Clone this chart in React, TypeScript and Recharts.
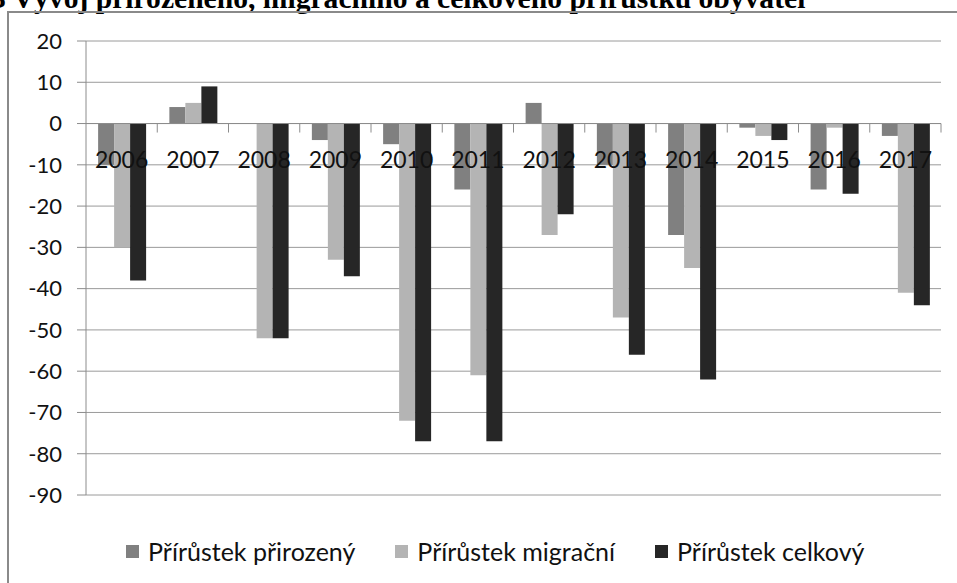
import React from 'react';
import {
    BarChart,
    Bar,
    XAxis,
    YAxis,
    CartesianGrid,
    ReferenceLine,
    Legend,
} from 'recharts';

const YEARS = ['2006', '2007', '2008', '2009', '2010', '2011', '2012', '2013', '2014', '2015', '2016', '2017'];
const NATURAL = [-10, 4, 0, -4, -5, -16, 5, -10, -27, -1, -16, -3];
const MIGRATION = [-30, 5, -52, -33, -72, -61, -27, -47, -35, -3, -1, -41];
const TOTAL = [-38, 9, -52, -37, -77, -77, -22, -56, -62, -4, -17, -44];
const Y_TICKS = [20, 10, 0, -10, -20, -30, -40, -50, -60, -70, -80, -90];

const SERIES = [
    { key: 'natural', name: 'Přírůstek přirozený', color: '#808080' },
    { key: 'migration', name: 'Přírůstek migrační', color: '#b4b4b4' },
    { key: 'total', name: 'Přírůstek celkový', color: '#262626' },
];

const W = 957;
const H = 583;
const MARGIN = { top: 41, right: 16, left: 8, bottom: 0 };
const Y_AXIS_W = 78;
const X_AXIS_H = 20;
const LEGEND_H = 68;
const FONT = 'Lato, "Open Sans", sans-serif';
const AXIS_GRAY = '#8c8c8c';

const data = YEARS.map((year, i) => ({
    year,
    natural: NATURAL[i],
    migration: MIGRATION[i],
    total: TOTAL[i],
}));

// plot box, used to put the category labels on the zero line like Excel does
const PLOT_LEFT = MARGIN.left + Y_AXIS_W;
const PLOT_RIGHT = W - MARGIN.right;
const PLOT_TOP = MARGIN.top;
const PLOT_BOTTOM = H - MARGIN.bottom - LEGEND_H - X_AXIS_H;
const Y_MIN = Y_TICKS[Y_TICKS.length - 1];
const Y_MAX = Y_TICKS[0];
const ZERO_Y = PLOT_TOP + ((Y_MAX - 0) / (Y_MAX - Y_MIN)) * (PLOT_BOTTOM - PLOT_TOP);
const BAND = (PLOT_RIGHT - PLOT_LEFT) / YEARS.length;

function YearTick(props: any) {
    const { x, payload } = props;
    return (
        <g>
            <line x1={x + BAND / 2} x2={x + BAND / 2} y1={ZERO_Y} y2={ZERO_Y + 9} stroke={AXIS_GRAY} />
            <text x={x} y={ZERO_Y + 44} textAnchor="middle" fontSize={23} fontFamily={FONT} fill="#111">
                {payload.value}
            </text>
        </g>
    );
}

function LegendBox() {
    return (
        <div
            style={{
                height: LEGEND_H,
                display: 'flex',
                alignItems: 'center',
                paddingTop: 4,
                paddingLeft: 126 - MARGIN.left,
                boxSizing: 'border-box',
                fontFamily: FONT,
                fontSize: 25,
                color: '#111',
            }}
        >
            {SERIES.map((s) => (
                <span key={s.key} style={{ display: 'flex', alignItems: 'center', marginRight: 40 }}>
                    <span style={{ width: 13, height: 13, background: s.color, marginRight: 9 }} />
                    {s.name}
                </span>
            ))}
        </div>
    );
}

export default function App() {
    return (
        <div style={{ position: 'absolute', left: 0, top: 0, width: W, height: H, overflow: 'hidden', background: '#fff' }}>
            <div
                style={{
                    position: 'absolute',
                    left: -9,
                    top: -18,
                    whiteSpace: 'nowrap',
                    fontFamily: '"Liberation Serif", "Times New Roman", serif',
                    fontWeight: 'bold',
                    fontSize: 29.6,
                }}
            >
                3 Vývoj přirozeného, migračního a celkového přírůstku obyvatel
            </div>
            <div
                style={{
                    position: 'absolute',
                    left: 7,
                    top: 11,
                    width: W + 20,
                    height: H + 20,
                    borderLeft: '2px solid #8a8a8a',
                    borderTop: '2px solid #8a8a8a',
                }}
            />
            <div style={{ position: 'absolute', left: 0, top: 0 }}>
                <BarChart width={W} height={H} data={data} margin={MARGIN} barCategoryGap="17%" barGap={0}>
                    <CartesianGrid vertical={false} stroke="#9a9a9a" />
                    <XAxis
                        dataKey="year"
                        axisLine={false}
                        tickLine={false}
                        tick={<YearTick />}
                        interval={0}
                        height={X_AXIS_H}
                    />
                    <YAxis
                        width={Y_AXIS_W}
                        domain={[Y_MIN, Y_MAX]}
                        ticks={Y_TICKS}
                        interval={0}
                        stroke={AXIS_GRAY}
                        tickSize={9}
                        tickMargin={15}
                        tick={{ fontSize: 22, fontFamily: FONT, fill: '#111' }}
                    />
                    <ReferenceLine y={0} stroke={AXIS_GRAY} />
                    <Legend verticalAlign="bottom" height={LEGEND_H} content={<LegendBox />} />
                    {SERIES.map((s) => (
                        <Bar key={s.key} dataKey={s.key} name={s.name} fill={s.color} isAnimationActive={false} />
                    ))}
                </BarChart>
            </div>
        </div>
    );
}
